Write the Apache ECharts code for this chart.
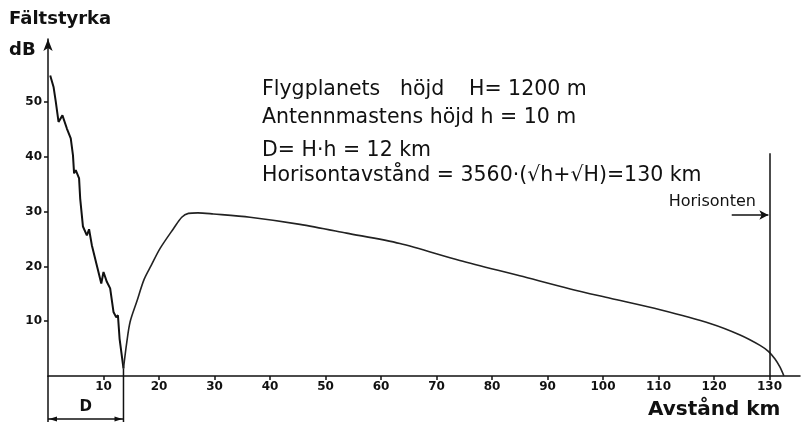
<!DOCTYPE html>
<html><head><meta charset="utf-8">
<script src="https://cdn.jsdelivr.net/npm/echarts@6/dist/echarts.min.js"></script>
<style>html,body{margin:0;padding:0;background:#fff}#c{width:802px;height:424px}</style>
</head><body><div id="c"></div>
<script>
// distance (km), field strength (dB)
const nearField = [[0.4,54.9],[1.0,52.8],[1.4,50.1],[1.9,46.4],[2.6,47.6],[3.4,45.2],[4.1,43.4],[4.5,40.3],[4.7,37.0],[5.0,37.6],[5.6,36.1],[5.8,32.4],[6.3,27.3],[7.0,25.7],[7.4,26.8],[7.9,23.9],[8.8,20.2],[9.6,16.9],[10.0,19.0],[10.6,17.2],[11.2,16.0],[11.8,11.7],[12.3,10.7],[12.6,11.1],[12.9,6.8],[13.6,1.4]];
const farField = [[13.6,1.4],[14.2,6.2],[14.8,9.9],[16.0,13.6],[17.3,17.6],[18.6,20.2],[20.2,23.3],[22.6,26.9],[24.1,29.0],[25.3,29.7],[27.0,29.8],[29.8,29.6],[36.4,29.0],[45.4,27.7],[53.8,26.1],[63.4,24.2],[74.2,21.1],[85.0,18.3],[94.1,15.9],[101.3,14.2],[110.3,12.1],[119.3,9.6],[124.7,7.5],[128.3,5.6],[129.8,4.5],[131.0,3.1],[131.9,1.6],[132.6,0]];
const xTicks = [10,20,30,40,50,60,70,80,90,100,110,120,130];
const yTicks = [10,20,30,40,50];
const horizonKm = 130;
const horizonTop = 40.7;
const horizonArrow = [[123.2,29.4],[129.8,29.4]];
const note1 = ['Flygplanets','höjd','H= 1200 m'];
const notes = ['Antennmastens höjd h = 10 m','D= H·h = 12 km','Horisontavstånd = 3560·(√h+√H)=130 km'];

const F = '"DejaVu Sans", sans-serif';
const chart = echarts.init(document.getElementById('c'));
const option = {
  animation:false,
  backgroundColor:'#fff',
  grid:{left:48,right:2,top:39,bottom:48},
  xAxis:{type:'value',min:0,max:135.5,
    axisLine:{lineStyle:{color:'#111',width:1.5}},
    axisTick:{show:true,customValues:xTicks,length:4,lineStyle:{color:'#111',width:1.5}},
    axisLabel:{customValues:xTicks,color:'#111',fontFamily:F,fontWeight:'bold',fontSize:12,margin:5},
    splitLine:{show:false}},
  yAxis:{type:'value',min:0,max:61.55,
    axisLine:{show:true,symbol:['none','arrow'],symbolSize:[7,12],lineStyle:{color:'#111',width:1.5}},
    axisTick:{show:true,customValues:yTicks,length:4,lineStyle:{color:'#111',width:1.5}},
    axisLabel:{customValues:yTicks,color:'#111',fontFamily:F,fontWeight:'bold',fontSize:12,margin:6},
    splitLine:{show:false}},
  series:[
    {type:'line',data:nearField,symbol:'none',lineStyle:{color:'#111',width:2},silent:true},
    {type:'line',data:farField,smooth:0.3,symbol:'none',lineStyle:{color:'#222',width:1.6},silent:true,
      markLine:{silent:true,label:{show:false},lineStyle:{color:'#111',width:1.5,type:'solid'},symbolSize:[7,9],
        data:[
          [{coord:[horizonKm,0],symbol:'none'},{coord:[horizonKm,horizonTop],symbol:'none'}],
          [{coord:horizonArrow[0],symbol:'none'},{coord:horizonArrow[1],symbol:'arrow'}]
        ]}}
  ]
};
chart.setOption(option);

const p0 = chart.convertToPixel({seriesIndex:0},[0,0]);
const pMin = chart.convertToPixel({seriesIndex:0},nearField[nearField.length-1]);
const pMinX = pMin[0];
const by = 419;
const txt = (x,y,t,font,align)=>({type:'text',x:x,y:y,style:{text:t,font:font,fill:'#111',textAlign:align||'left',textVerticalAlign:'middle'}});
const NF = '20.5px '+F;
const graphics = [
  {type:'line',shape:{x1:p0[0],y1:p0[1],x2:p0[0],y2:by+3},style:{stroke:'#111',lineWidth:1.5}},
  {type:'line',shape:{x1:pMinX,y1:pMin[1],x2:pMinX,y2:by+3},style:{stroke:'#111',lineWidth:1.5}},
  {type:'line',shape:{x1:p0[0],y1:by,x2:pMinX,y2:by},style:{stroke:'#111',lineWidth:1.5}},
  {type:'polygon',shape:{points:[[p0[0]+1,by],[p0[0]+9,by-2.5],[p0[0]+9,by+2.5]]},style:{fill:'#111'}},
  {type:'polygon',shape:{points:[[pMinX-1,by],[pMinX-9,by-2.5],[pMinX-9,by+2.5]]},style:{fill:'#111'}},
  txt((p0[0]+pMinX)/2,407,'D','bold 15px '+F,'center'),
  txt(9,19,'Fältstyrka','bold 18px '+F),
  txt(9,50,'dB','bold 18px '+F),
  txt(648,410,'Avstånd km','bold 20px '+F),
  txt(756,202,'Horisonten','16px '+F,'right'),
  txt(262,90,note1[0],NF),
  txt(400,90,note1[1],NF),
  txt(469,90,note1[2],NF),
  txt(262,118,notes[0],NF),
  txt(262,151,notes[1],NF),
  txt(262,176,notes[2],NF)
];
chart.setOption({graphic:graphics});
</script></body></html>
